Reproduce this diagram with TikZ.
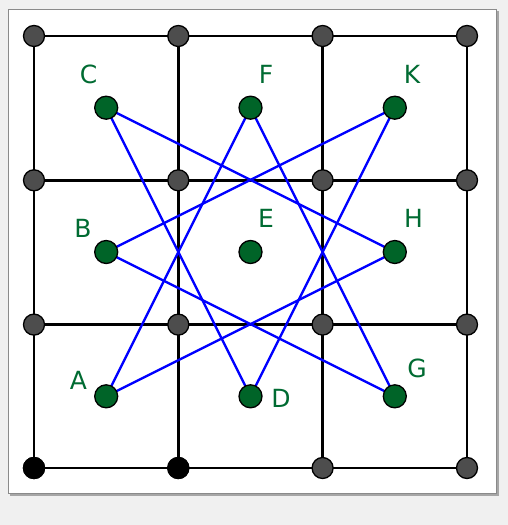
\documentclass[tikz,border=0pt]{standalone}
\usepackage{fontspec}
\setmainfont{DejaVu Sans}
\definecolor{bgc}{HTML}{F0F0F0}
\definecolor{ptgray}{HTML}{4D4D4D}
\definecolor{ptgreen}{HTML}{006428}
\definecolor{lblgreen}{HTML}{006B32}
\definecolor{framec}{HTML}{8A8A8A}
\pgfdeclarelayer{bg}
\pgfdeclarelayer{grid}
\pgfsetlayers{bg,grid,main}
\begin{document}
\begin{tikzpicture}[x=1pt,y=-1pt,
  gridpt/.style={circle,draw=black,line width=1.3pt,fill=ptgray,minimum size=21pt,inner sep=0pt},
  blackpt/.style={gridpt,fill=black},
  greenpt/.style={circle,draw=black,line width=1.3pt,fill=ptgreen,minimum size=23pt,inner sep=0pt},
  lbl/.style={text=lblgreen,font=\fontsize{25}{25}\selectfont,inner sep=0pt},
  gridline/.style={line width=2.4pt,black},
  star/.style={line width=2.4pt,blue}]
\useasboundingbox (0,0) rectangle (508,525);
\begin{pgfonlayer}{bg}
\fill[bgc] (0,0) rectangle (508,525);
\fill[black!35] (10,11) rectangle (499,496);
\fill[white,draw=framec,line width=1pt] (8.5,9.5) rectangle (496.5,493.5);
\end{pgfonlayer}
% grid points
\foreach \i/\x in {0/34,1/178.3,2/322.6,3/467}{
  \foreach \j/\y in {0/36,1/180.3,2/324.6,3/468}{
    \node[gridpt] (p\i\j) at (\x,\y) {};
  }
}
\node[blackpt] at (p03) {};
\node[blackpt] at (p13) {};
\begin{pgfonlayer}{grid}
\foreach \j in {0,1,2,3}{
  \draw[gridline] (p0\j.center) -- (p3\j.center);
  \draw[gridline] (p\j0.center) -- (p\j3.center);
}
\end{pgfonlayer}
% green points
\node[greenpt] (C) at (106.2,107.7) {};
\node[greenpt] (F) at (250.5,107.7) {};
\node[greenpt] (K) at (394.8,107.7) {};
\node[greenpt] (B) at (106.2,252) {};
\node[greenpt] (E) at (250.5,252) {};
\node[greenpt] (H) at (394.8,252) {};
\node[greenpt] (A) at (106.2,396.3) {};
\node[greenpt] (D) at (250.5,396.3) {};
\node[greenpt] (G) at (394.8,396.3) {};
\begin{pgfonlayer}{grid}
\foreach \a/\b in {A/F,A/H,B/K,B/G,C/D,C/H,D/K,F/G}{
  \draw[star] (\a.center) -- (\b.center);
}
\end{pgfonlayer}
% labels
\node[lbl] (lC) at (88.5,74) {C};
\node[lbl] (lF) at (266,74) {F};
\node[lbl] (lK) at (412,74) {K};
\node[lbl] (lB) at (83,228) {B};
\node[lbl] (lE) at (266,218) {E};
\node[lbl] (lH) at (413.5,218) {H};
\node[lbl] (lA) at (78.5,380) {A};
\node[lbl] (lD) at (281,398) {D};
\node[lbl] (lG) at (417,368) {G};
\end{tikzpicture}
\end{document}
